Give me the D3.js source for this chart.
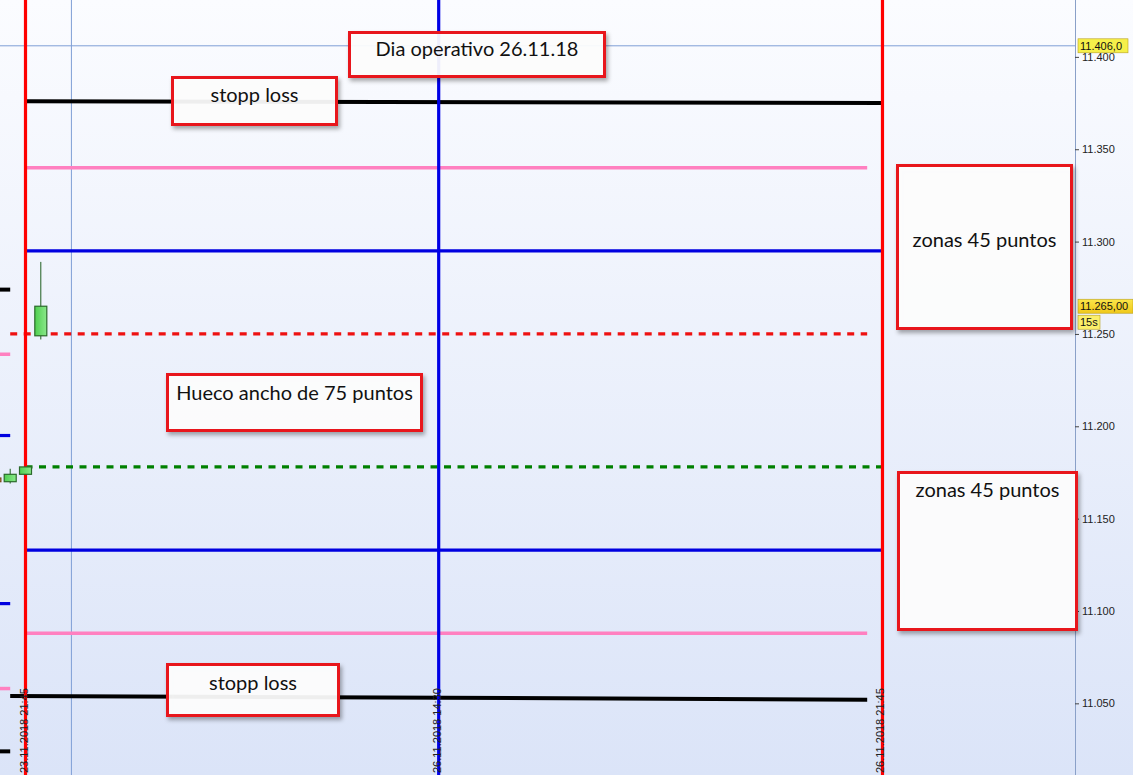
<!DOCTYPE html>
<html><head><meta charset="utf-8">
<script src="https://cdn.jsdelivr.net/npm/d3@7"></script>
<style>
html,body{margin:0;padding:0;background:#fff;}
svg{display:block;}
</style></head>
<body>
<svg id="chart" width="1133" height="775"></svg>
<script>
// ---------- DATA ----------
// x in minutes of trading time from 23.11.2018 21:45
const xTickMinutes = [0, 405, 840];
const xTickLabels = ["23.11.2018 21:45", "26.11.2018 14:30", "26.11.2018 21:45"];
const yTickValues = [11050, 11100, 11150, 11200, 11250, 11300, 11350, 11400];

// candles
const candleMinutes = [-30, -15, 0, 15];
const candleOpen  = [11172, 11170, 11174, 11249];
const candleHigh  = [11172, 11177, 11178, 11289];
const candleLow   = [11169, 11169, 11174, 11247];
const candleClose = [11170, 11174, 11178, 11265];

// trading levels of the day
const levelKinds  = ["stop", "zone", "mid", "gapTop", "gapBottom", "mid", "zone", "stop"];
const levelStart  = [11376, 11340, 11295, 11250, 11178, 11133, 11088, 11054];
const levelEnd    = [11375, 11340, 11295, 11250, 11178, 11133, 11088, 11052];
const levelFrom   = [0, 0, 0, -15, 0, 0, 0, -15];
const levelTo     = [840, 825, 840, 825, 840, 840, 825, 825];

// previous-day levels (end at 23.11 21:30)
const prevKinds  = ["stop", "zone", "mid", "mid", "zone", "stop"];
const prevValues = [11274, 11239, 11195, 11104, 11058, 11024];
const prevFrom = -40, prevTo = -15;

// vertical session markers
const markerMinutes = [0, 405, 840];
const markerKinds = ["session", "mid", "session"];

// crosshair & price badges
const crossMinute = 45;
const crossValue = 11406;
const lastPrice = 11265;
const timeframeLabel = "15s";

// annotation texts
const annotationTexts = ["Dia operativo 26.11.18", "stopp loss", "zonas 45 puntos",
  "Hueco ancho de 75 puntos", "zonas 45 puntos", "stopp loss"];

// ---------- LAYOUT / STYLE ----------
const W = 1133, H = 775, plotRight = 1075;
const svg = d3.select("#chart");
const x = d3.scaleLinear().domain([-25, 1028.7]).range([0, plotRight]);
const y = d3.scaleLinear().domain([11011.2, 11430.8]).range([H, 0]);

const locale = d3.formatLocale({decimal: ",", thousands: ".", grouping: [3], currency: ["", ""]});
const fmtTick = locale.format(",.0f");

const defs = svg.append("defs");
const bg = defs.append("linearGradient").attr("id", "bg").attr("x1", 0).attr("y1", 0).attr("x2", 0).attr("y2", 1);
bg.append("stop").attr("offset", "0%").attr("stop-color", "#fbfcff");
bg.append("stop").attr("offset", "100%").attr("stop-color", "#dbe4f8");
const cg = defs.append("linearGradient").attr("id", "cg").attr("x1", 0).attr("y1", 0).attr("x2", 1).attr("y2", 0);
cg.append("stop").attr("offset", "0%").attr("stop-color", "#4fcf4f");
cg.append("stop").attr("offset", "100%").attr("stop-color", "#8ae88a");
const yg = defs.append("linearGradient").attr("id", "yg").attr("x1", 0).attr("y1", 0).attr("x2", 0).attr("y2", 1);
yg.append("stop").attr("offset", "0%").attr("stop-color", "#fbe64a");
yg.append("stop").attr("offset", "100%").attr("stop-color", "#f0c81a");
const sh = defs.append("filter").attr("id", "shadow").attr("x", "-10%").attr("y", "-10%").attr("width", "130%").attr("height", "140%");
sh.append("feDropShadow").attr("dx", 2).attr("dy", 3).attr("stdDeviation", 2).attr("flood-color", "#000").attr("flood-opacity", 0.35);
defs.append("clipPath").attr("id", "plotclip").append("rect").attr("x", 0).attr("y", 0).attr("width", plotRight).attr("height", H);

svg.append("rect").attr("width", W).attr("height", H).attr("fill", "url(#bg)");

const plot = svg.append("g").attr("clip-path", "url(#plotclip)");

// crosshair
plot.append("line").attr("x1", 0).attr("x2", W).attr("y1", y(crossValue)).attr("y2", y(crossValue))
  .attr("stroke", "#7f9fd6").attr("stroke-width", 1);
plot.append("line").attr("x1", x(crossMinute)).attr("x2", x(crossMinute)).attr("y1", 0).attr("y2", H)
  .attr("stroke", "#7f9fd6").attr("stroke-width", 1);

const levelStyle = {
  stop: {color: "#000000", width: 4, dash: null},
  zone: {color: "#ff80c0", width: 3.5, dash: null},
  mid: {color: "#0000e0", width: 3.2, dash: null},
  gapTop: {color: "#ee1111", width: 3.2, dash: "7,6.5"},
  gapBottom: {color: "#008000", width: 3.2, dash: "7,6.5"}
};

// previous-day levels
plot.selectAll("line.prev").data(prevValues).join("line").attr("class", "prev")
  .attr("x1", x(prevFrom)).attr("x2", x(prevTo))
  .attr("y1", d => y(d)).attr("y2", d => y(d))
  .attr("stroke", (d, i) => levelStyle[prevKinds[i]].color)
  .attr("stroke-width", (d, i) => levelStyle[prevKinds[i]].width);

// day levels
plot.selectAll("line.level").data(levelStart).join("line").attr("class", "level")
  .attr("x1", (d, i) => x(levelFrom[i])).attr("x2", (d, i) => x(levelTo[i]))
  .attr("y1", d => y(d)).attr("y2", (d, i) => y(levelEnd[i]))
  .attr("stroke", (d, i) => levelStyle[levelKinds[i]].color)
  .attr("stroke-width", (d, i) => levelStyle[levelKinds[i]].width)
  .attr("stroke-dasharray", (d, i) => levelStyle[levelKinds[i]].dash);

// vertical markers
plot.selectAll("line.marker").data(markerMinutes).join("line").attr("class", "marker")
  .attr("x1", d => x(d)).attr("x2", d => x(d)).attr("y1", 0).attr("y2", H)
  .attr("stroke", (d, i) => markerKinds[i] === "session" ? "#ff0000" : "#0000e6")
  .attr("stroke-width", 3.2);

// candles
const cw = 12;
const cand = plot.selectAll("g.candle").data(candleMinutes).join("g").attr("class", "candle");
cand.append("line")
  .attr("x1", d => x(d)).attr("x2", d => x(d))
  .attr("y1", (d, i) => y(candleHigh[i])).attr("y2", (d, i) => y(candleLow[i]))
  .attr("stroke", (d, i) => candleClose[i] >= candleOpen[i] ? "#1f5f1f" : "#7a4a1a").attr("stroke-width", 1);
cand.append("rect")
  .attr("x", d => x(d) - cw / 2)
  .attr("y", (d, i) => y(Math.max(candleOpen[i], candleClose[i])))
  .attr("width", cw)
  .attr("height", (d, i) => Math.max(2, Math.abs(y(candleOpen[i]) - y(candleClose[i]))))
  .attr("fill", (d, i) => candleClose[i] >= candleOpen[i] ? "url(#cg)" : "#c98a40")
  .attr("stroke", (d, i) => candleClose[i] >= candleOpen[i] ? "#2a6a2a" : "#7a4a1a").attr("stroke-width", 1.2);

// right axis border
svg.append("line").attr("x1", plotRight + 0.5).attr("x2", plotRight + 0.5).attr("y1", 0).attr("y2", H)
  .attr("stroke", "#8aa0c8").attr("stroke-width", 1);

// y axis
const yAxis = svg.append("g").attr("transform", `translate(${plotRight},0)`)
  .call(d3.axisRight(y).tickValues(yTickValues).tickFormat(fmtTick).tickSize(4).tickPadding(3));
yAxis.select(".domain").remove();
yAxis.selectAll("line").attr("stroke", "#444");
yAxis.selectAll("text").attr("font-family", "Liberation Sans, Arial, sans-serif").attr("font-size", 11).attr("fill", "#222");

// x axis (rotated date labels)
const xAxis = svg.append("g").attr("transform", `translate(0,${H})`)
  .call(d3.axisBottom(x).tickValues(xTickMinutes).tickFormat((d, i) => xTickLabels[i]).tickSize(0));
xAxis.select(".domain").remove();
xAxis.selectAll("text")
  .attr("transform", "rotate(-90)").attr("x", 2).attr("y", 1.5).attr("dy", 0)
  .attr("text-anchor", "start")
  .attr("font-family", "Liberation Sans, Arial, sans-serif").attr("font-size", 11).attr("fill", "#222");

// price badges
function badge(yc, text, w, fill) {
  const g = svg.append("g");
  g.append("rect").attr("x", 1078).attr("y", yc - 7).attr("width", w).attr("height", 14)
    .attr("fill", fill).attr("stroke", "#b8a020").attr("stroke-width", 0.6);
  g.append("text").attr("x", 1080).attr("y", yc + 4).text(text)
    .attr("font-family", "Liberation Sans, Arial, sans-serif").attr("font-size", 11).attr("fill", "#111");
}
badge(y(crossValue), locale.format(",.1f")(crossValue), 50, "#f6f04a");
badge(y(lastPrice), locale.format(",.2f")(lastPrice), 55, "url(#yg)");
badge(y(lastPrice) + 16, timeframeLabel, 22, "#fbef6a");

// annotation boxes (pixel layout)
const boxLayout = [
  {x: 348, y: 31, w: 258, h: 47, ty: 55},
  {x: 171, y: 76, w: 167, h: 50, ty: 101},
  {x: 896, y: 164, w: 177, h: 166, ty: 246},
  {x: 166, y: 373, w: 257, h: 59, ty: 399},
  {x: 897, y: 471, w: 181, h: 160, ty: 496},
  {x: 166, y: 663, w: 174, h: 54, ty: 689}
];
const boxes = svg.selectAll("g.box").data(annotationTexts).join("g").attr("class", "box");
boxes.append("rect")
  .attr("x", (d, i) => boxLayout[i].x + 1.5).attr("y", (d, i) => boxLayout[i].y + 1.5)
  .attr("width", (d, i) => boxLayout[i].w - 3).attr("height", (d, i) => boxLayout[i].h - 3)
  .attr("fill", "#ffffff").attr("fill-opacity", 0.92)
  .attr("stroke", "#e8161e").attr("stroke-width", 3)
  .attr("filter", "url(#shadow)");
boxes.append("text")
  .attr("x", (d, i) => boxLayout[i].x + boxLayout[i].w / 2)
  .attr("y", (d, i) => boxLayout[i].ty + 1)
  .attr("text-anchor", "middle")
  .attr("font-family", "Lato, 'Open Sans', sans-serif").attr("font-size", 20).attr("fill", "#111")
  .text(d => d);
</script>
</body></html>
